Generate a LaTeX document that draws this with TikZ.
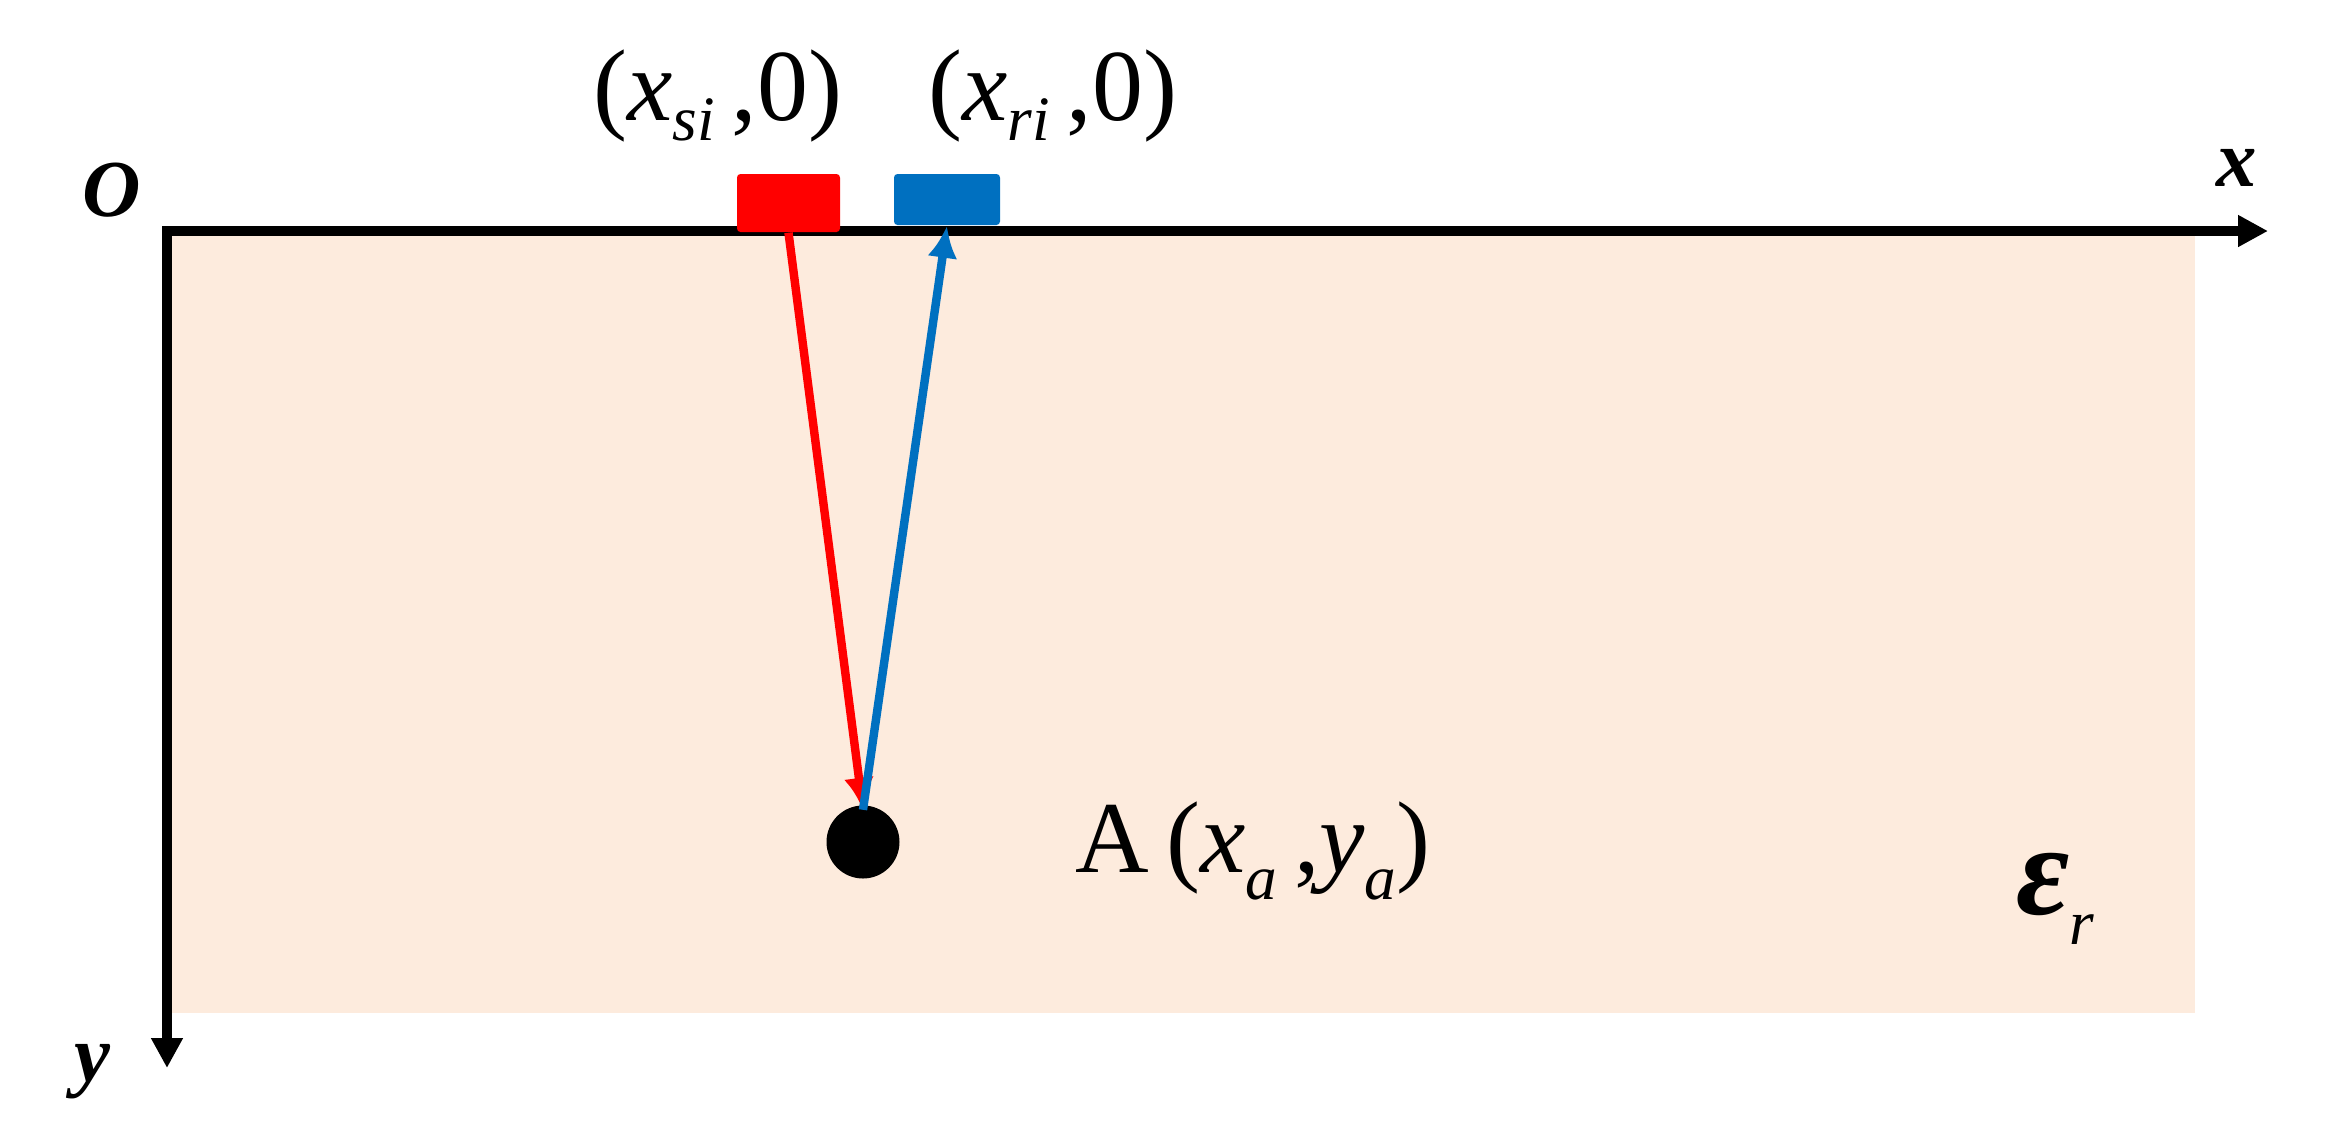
\documentclass[tikz,border=0pt]{standalone}
\usepackage{fontspec}
\setmainfont{Liberation Serif}
\usepackage{tikz}
\usetikzlibrary{arrows.meta, positioning}

\definecolor{soil}{RGB}{253,235,221}
\definecolor{rxblue}{RGB}{0,112,192}

% lowered italic subscript
\newcommand{\lowsub}[2][0.2em]{\raisebox{-#1}{\fontsize{18}{20}\selectfont\itshape #2}}

\begin{document}
\begin{tikzpicture}[
    axis/.style = {line width = 2.6pt, -{Triangle[length = 0.3cm, width = 0.3cm]}},
    ray/.style = {line width = 2.4pt, -{Latex[length = 0.32cm, width = 0.3cm]}},
    antenna/.style = {rectangle, rounded corners = 1pt, inner sep = 0pt},
    label/.style = {font = \fontsize{29}{34}\selectfont, anchor = base, inner sep = 0pt},
    axlabel/.style = {font = \fontsize{23}{26}\selectfont\bfseries\itshape, inner sep = 0pt},
  ]
        \useasboundingbox (0, 0) rectangle (23.28, -11.25);

        % medium
        \fill [soil] (1.70, -2.31) rectangle (21.95, -10.13);

        % axes
        \coordinate (origin) at (1.67, -2.31);
        \coordinate (xend)   at (22.68, -2.31);
        \coordinate (yend)   at (1.67, -10.68);
        \draw [axis] ([xshift = -1.3pt] origin) to (xend);
        \draw [axis] (origin) to (yend);

        \node [axlabel] (olabel) at (1.12, -1.90)  {O};
        \node [axlabel] (xlabel) at (22.37, -1.68) {x};
        \node [axlabel] (ylabel) at (0.92, -10.72) {y};

        % source and receiver
        \node [antenna, fill = red, minimum width = 1.03cm, minimum height = 0.58cm]
          (source) at (7.885, -2.03) {};
        \node [antenna, fill = rxblue, minimum width = 1.06cm, minimum height = 0.51cm]
          (receiver) at (9.47, -1.995) {};

        \node [label] (sourcelabel)   at (7.18, -1.20)
          {(\textit{x}\lowsub{si}\,,0)};
        \node [label] (receiverlabel) at (10.53, -1.20)
          {(\textit{x}\lowsub{ri}\,,0)};

        % target
        \node [circle, fill = black, minimum size = 0.73cm, inner sep = 0pt]
          (target) at (8.63, -8.42) {};
        \node [label] (targetlabel) at (12.53, -8.72)
          {A\,(\textit{x}\lowsub[0.27em]{a}\,,\textit{y}\lowsub[0.27em]{a})};

        \node [label] (permittivity) at (20.55, -9.14)
          {{\fontsize{37}{40}\selectfont\bfseries\itshape ε}\lowsub[0.3em]{r}};

        % rays
        \draw [ray, red]    (source.south) to ([yshift = -0.05cm] target.north);
        \draw [ray, rxblue] ([yshift = -0.05cm] target.north) to (receiver.south);
      \end{tikzpicture}
\end{document}
